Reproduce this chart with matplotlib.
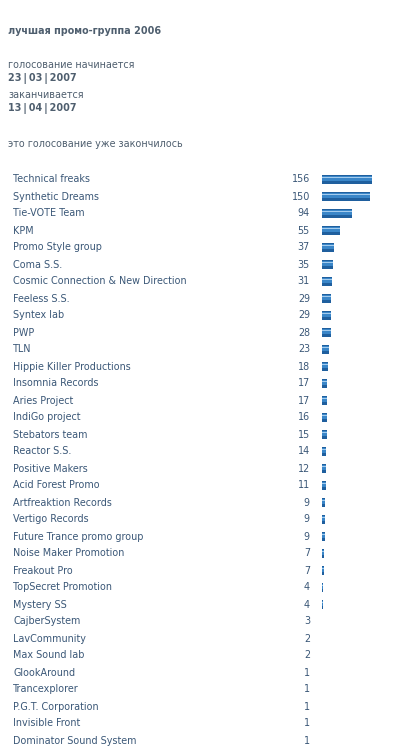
import matplotlib.pyplot as plt
from matplotlib import transforms

plt.rcParams['font.family'] = ['DejaVu Sans']

title = "лучшая промо-группа 2006"
start_label = "голосование начинается"
start_date = "23\u2009|\u200903\u2009|\u20092007"
end_label = "заканчивается"
end_date = "13\u2009|\u200904\u2009|\u20092007"
status = "это голосование уже закончилось"

groups = [
    "Technical freaks", "Synthetic Dreams", "Tie-VOTE Team", "KPM",
    "Promo Style group", "Coma S.S.", "Cosmic Connection & New Direction",
    "Feeless S.S.", "Syntex lab", "PWP", "TLN", "Hippie Killer Productions",
    "Insomnia Records", "Aries Project", "IndiGo project", "Stebators team",
    "Reactor S.S.", "Positive Makers", "Acid Forest Promo",
    "Artfreaktion Records", "Vertigo Records", "Future Trance promo group",
    "Noise Maker Promotion", "Freakout Pro", "TopSecret Promotion",
    "Mystery SS", "CajberSystem", "LavCommunity", "Max Sound lab",
    "GlookAround", "Trancexplorer", "P.G.T. Corporation", "Invisible Front",
    "Dominator Sound System",
]
votes = [156, 150, 94, 55, 37, 35, 31, 29, 29, 28, 23, 18, 17, 17, 16, 15,
         14, 12, 11, 9, 9, 9, 7, 7, 4, 4, 3, 2, 2, 1, 1, 1, 1, 1]

W, H = 413, 754
fig = plt.figure(figsize=(W / 100, H / 100), dpi=100)
fig.patch.set_facecolor('white')

text_col = '#3a5777'
head_col = '#4e5e6e'
fs = 6.9


def fy(px):
    return 1 - px / H


def fx(px):
    return px / W


fig.text(fx(8), fy(31), title, fontsize=fs, fontweight='bold', color=head_col, va='center')
fig.text(fx(8), fy(65), start_label, fontsize=fs, color=head_col, va='center')
fig.text(fx(8), fy(78), start_date, fontsize=fs, fontweight='bold', color=head_col, va='center')
fig.text(fx(8), fy(95), end_label, fontsize=fs, color=head_col, va='center')
fig.text(fx(8), fy(108), end_date, fontsize=fs, fontweight='bold', color=head_col, va='center')
fig.text(fx(8), fy(144), status, fontsize=fs, color=head_col, va='center')

# bar axes: 34 rows of 17 px, bars start at x=322, 156 votes ~ 50 px
row_h = 17
top = 171
n = len(groups)
bar_left, bar_w = 322, 60
ax = fig.add_axes([fx(bar_left), fy(top + n * row_h), bar_w / W, n * row_h / H])
ax.set_xlim(0, max(votes) * bar_w / 50)
ax.set_ylim(n - 0.5, -0.5)
ax.axis('off')

shown = [v if v > 3 else 0 for v in votes]
ys = list(range(n))
ax.barh(ys, shown, height=0.52, color='#1f5f9e', linewidth=0)
ax.barh([y - 0.07 for y in ys], shown, height=0.26, color='#3a86c8', linewidth=0)
ax.barh([y - 0.13 for y in ys], shown, height=0.06, color='#a4ccee', linewidth=0)

tr = transforms.blended_transform_factory(fig.transFigure, ax.transData)
for i, (g, v) in enumerate(zip(groups, votes)):
    ax.text(fx(13), i, g, transform=tr, fontsize=fs, color=text_col,
            va='center', ha='left', clip_on=False)
    ax.text(fx(310), i, str(v), transform=tr, fontsize=fs, color=text_col,
            va='center', ha='right', clip_on=False)

fig.savefig('out.png', dpi=100, facecolor='white')
